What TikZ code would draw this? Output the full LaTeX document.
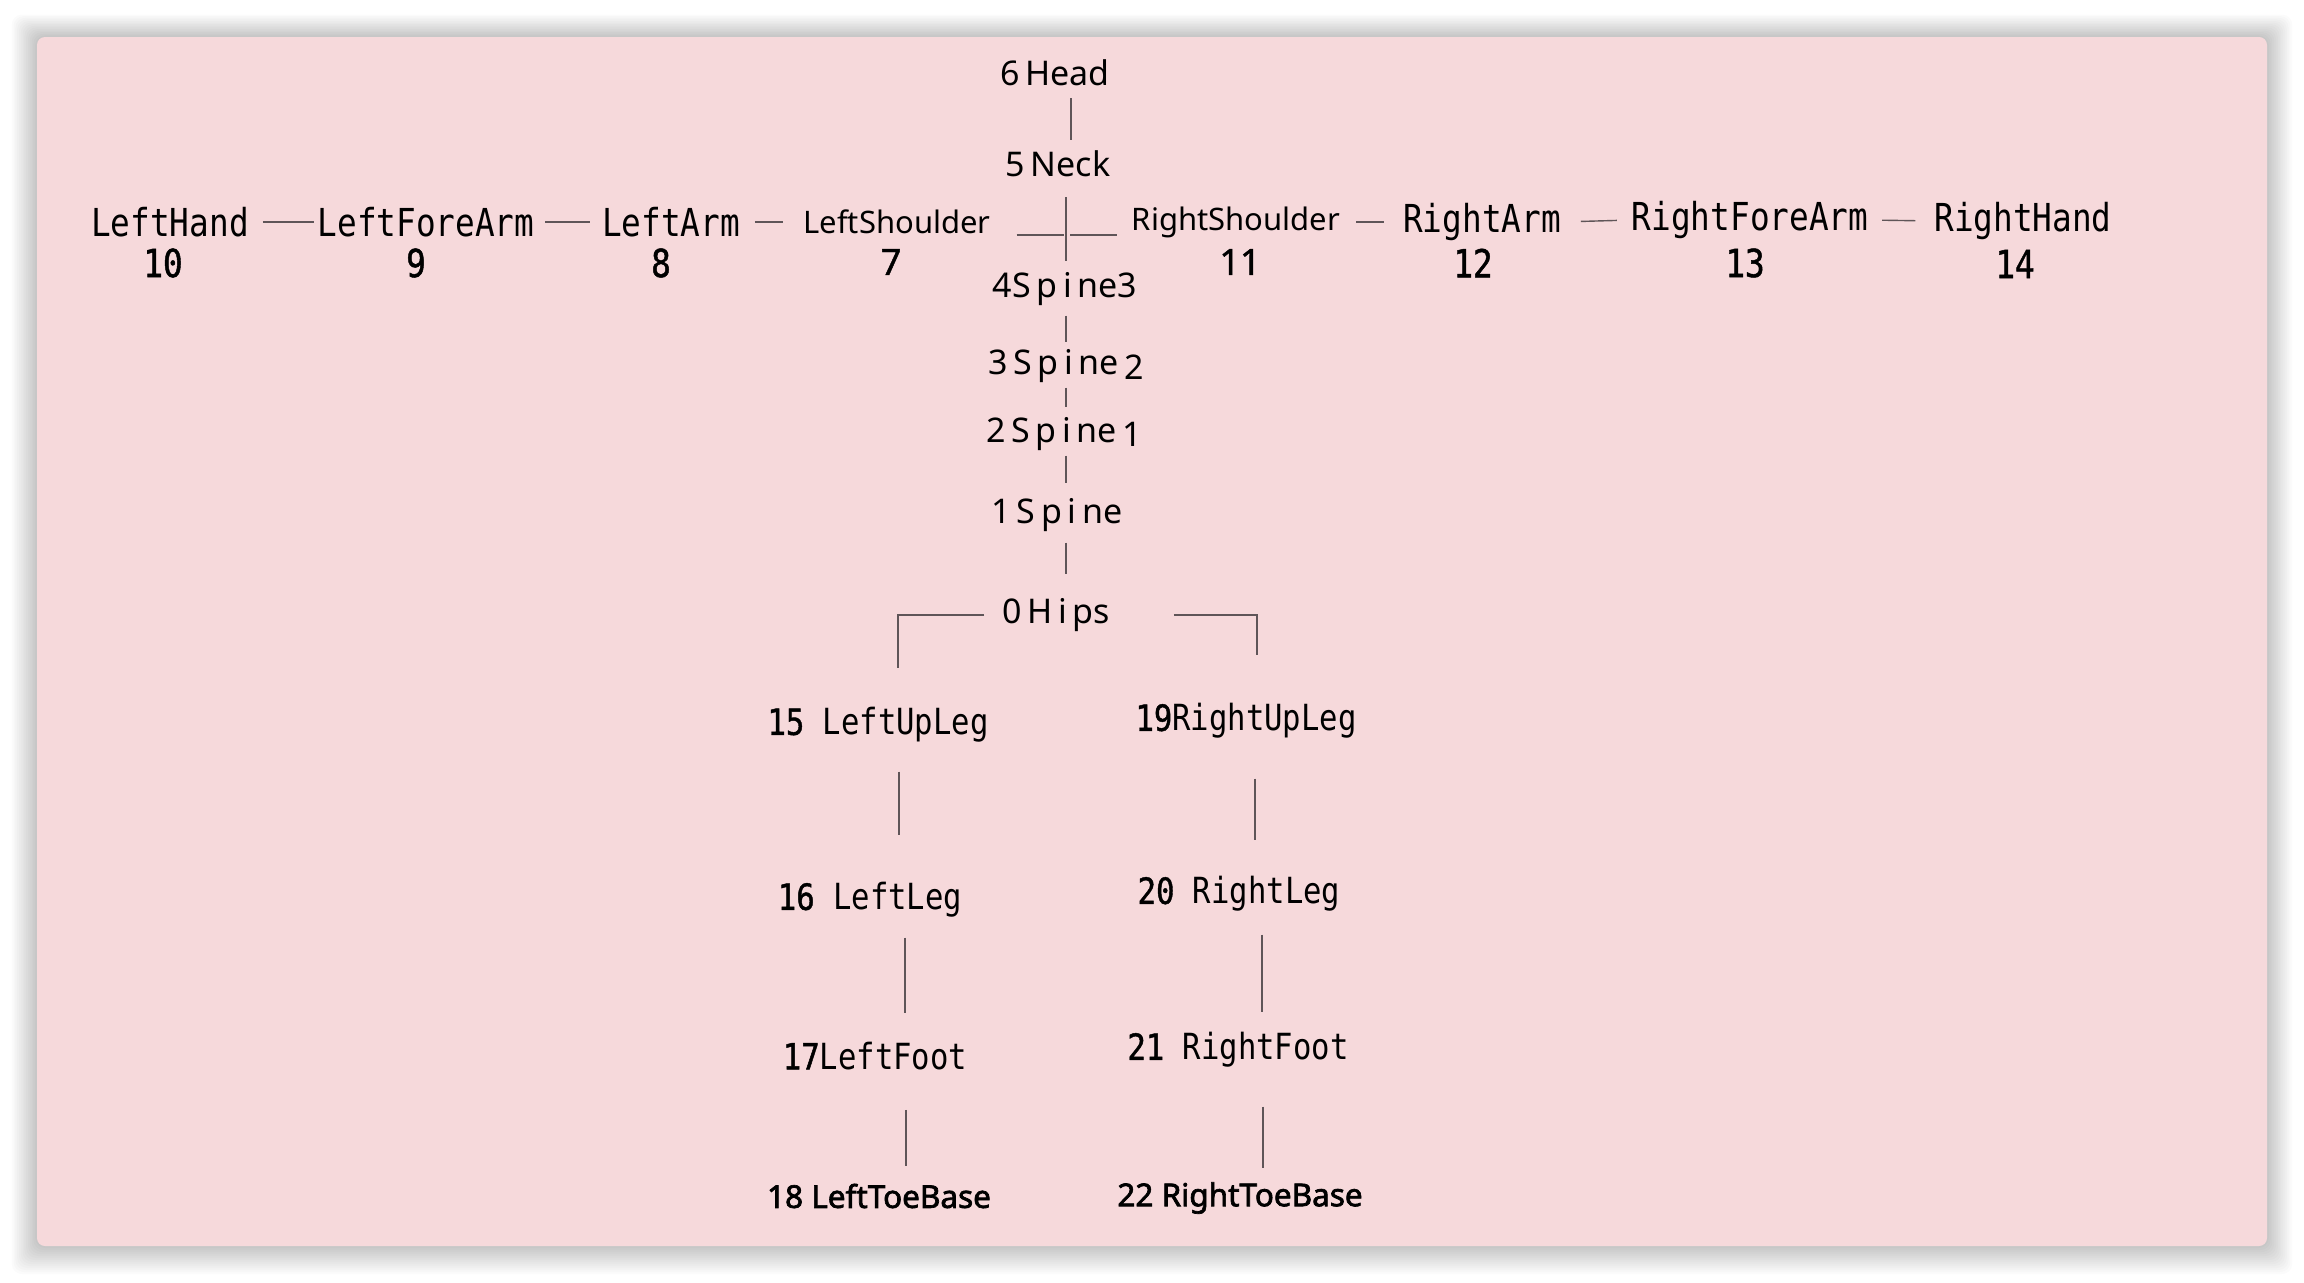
\documentclass[tikz,border=0pt]{standalone}
\usepackage{fontspec}
\setmainfont{Noto Sans}
\newfontfamily\monof[FakeStretch=0.85]{DejaVu Sans Mono}
\newfontfamily\monob[FakeStretch=0.85,FakeBold=1.2]{DejaVu Sans Mono}
\newfontfamily\toef[FakeBold=2.2]{Noto Sans}
\newfontfamily\numf[FakeBold=1.2]{Noto Sans}
\usetikzlibrary{calc}
\definecolor{panel}{RGB}{246,217,219}
\definecolor{lnc}{RGB}{95,85,88}
\begin{document}
\begin{tikzpicture}[x=1pt,y=-1pt,
  conn/.style={draw=lnc,line width=1.4pt},
  lab/.style={inner sep=0pt,outer sep=0pt,text=black,font=\fontsize{34}{40}\selectfont},
  shl/.style={inner sep=0pt,outer sep=0pt,text=black,font=\fontsize{31}{36}\selectfont},
  shn/.style={inner sep=0pt,outer sep=0pt,text=black,font=\numf\fontsize{36}{42}\selectfont},
  arm/.style={inner sep=0pt,outer sep=0pt,text=black,font=\monof\fontsize{38.5}{44}\selectfont},
  armn/.style={inner sep=0pt,outer sep=0pt,text=black,font=\monob\fontsize{38.5}{44}\selectfont},
  leg/.style={inner sep=0pt,outer sep=0pt,text=black,font=\monof\fontsize{36}{42}\selectfont},
  toe/.style={inner sep=0pt,outer sep=0pt,text=black,font=\toef\fontsize{31.5}{36}\selectfont}
]
\useasboundingbox (0,0) rectangle (2304,1282);
\fill[white] (0,0) rectangle (2304,1282);
\foreach \i in {1,...,14}{
  \fill[black,opacity=0.014,rounded corners=10] ({37-1.8*\i},{37-1.6*\i}) rectangle ({2267+1.8*\i},{1246+2*\i});
}
\fill[panel,rounded corners=8] (37,37) rectangle (2267,1246);

% spine column
\node[lab] (head) at (1055,73) {6\,Head};
\node[lab] (neck) at (1058,164) {5\,Neck};
\node[lab] (spine3) at (1065,289) {4S\,p\,i\,ne3};
\node[lab] (spine2) at (1066,366) {3\,S\,p\,i\,ne\,\raisebox{-5pt}{2}};
\node[lab] (spine1) at (1064,434) {2\,S\,p\,i\,ne\,\raisebox{-4pt}{1}};
\node[lab] (spine) at (1057,515) {1\,S\,p\,i\,ne};
\node[lab] (hips) at (1056,615) {0\,H\,i\,ps};

% arms
\node[shl] (ls) at (897,222) {LeftShoulder};
\node[shn] (lsn) at (891,262) {7};
\node[shl] (rs) at (1236,222) {RightShoulder};
\node[shn] (rsn) at (1240,262) {11};
\node[arm] (lh) at (170,222) {LeftHand};
\node[armn] (lhn) at (163,263) {10};
\node[arm] (lfa) at (426,222) {LeftForeArm};
\node[armn] (lfan) at (416,263) {9};
\node[arm] (la) at (671,222) {LeftArm};
\node[armn] (lan) at (661,263) {8};
\node[arm] (ra) at (1482,222) {RightArm};
\node[armn] (ran) at (1473,263) {12};
\node[arm] (rfa) at (1750,220) {RightForeArm};
\node[armn] (rfan) at (1745,263) {13};
\node[arm] (rh) at (2023,221) {RightHand};
\node[armn] (rhn) at (2015,264) {14};

% legs
\node[leg] (lul) at (878,725) {{\monob 15} LeftUpLeg};
\node[leg] (ll) at (870,900) {{\monob 16} LeftLeg};
\node[leg] (lf) at (875,1056) {{\monob 17}LeftFoot};
\node[toe] (ltb) at (879,1196) {18 LeftToeBase};
\node[leg] (rul) at (1246,721) {{\monob 19}RightUpLeg};
\node[leg] (rl) at (1239,894) {{\monob 20} RightLeg};
\node[leg] (rf) at (1238,1050) {{\monob 21} RightFoot};
\node[toe] (rtb) at (1240,1198) {22 RightToeBase};

% helper coordinates
\coordinate (ctr) at (1066,235);
\coordinate (hn) at (1071,120);
\coordinate (hipL) at (898,668);
\coordinate (hipR) at (1257,655);
\coordinate (lx1) at (899,800);
\coordinate (rx1) at (1255,800);
\coordinate (lx2) at (905,975);
\coordinate (rx2) at (1262,975);
\coordinate (lx3) at (906,1135);
\coordinate (rx3) at (1263,1135);

% arm connectors
\draw[conn, shorten <=14pt, shorten >=4pt] (lh.east) -- (lfa.west);
\draw[conn, shorten <=11pt, shorten >=12pt] (lfa.east) -- (la.west);
\draw[conn, shorten <=15pt, shorten >=20pt] (la.east) -- (ls.west);
\draw[conn, shorten <=26pt, shorten >=2pt] (ls.east |- ctr) -- (ctr);
\draw[conn, shorten <=4pt, shorten >=15pt] (ctr) -- (rs.west |- ctr);
\draw[conn, shorten <=16pt, shorten >=19pt] (rs.east) -- (ra.west);
\draw[conn, shorten <=20pt, shorten >=15pt] (ra.east) -- (rfa.west);
\draw[conn, shorten <=14pt, shorten >=19pt] (rfa.east) -- (rh.west);

% spine connectors
\draw[conn, shorten <=12pt, shorten >=11pt] (head.south -| hn) -- (neck.north -| hn);
\draw[conn, shorten <=20pt, shorten >=11pt] (neck.south -| ctr) -- (spine3.north -| ctr);
\draw[conn, shorten <=10pt, shorten >=7pt] (spine3.south -| ctr) -- (spine2.north -| ctr);
\draw[conn, shorten <=5pt, shorten >=10pt] (spine2.south -| ctr) -- (spine1.north -| ctr);
\draw[conn, shorten <=5pt, shorten >=15pt] (spine1.south -| ctr) -- (spine.north -| ctr);
\draw[conn, shorten <=11pt, shorten >=24pt] (spine.south -| ctr) -- (hips.north -| ctr);

% hips to legs
\draw[conn, shorten <=18pt] (hips.west) -| (hipL);
\draw[conn, shorten <=64pt] (hips.east) -| (hipR);
\draw[conn, shorten <=29pt, shorten >=47pt] (lul.south -| lx1) -- (ll.north -| lx1);
\draw[conn, shorten <=40pt, shorten >=36pt] (rul.south -| rx1) -- (rl.north -| rx1);
\draw[conn, shorten <=20pt, shorten >=29pt] (ll.south -| lx2) -- (lf.north -| lx2);
\draw[conn, shorten <=23pt, shorten >=20pt] (rl.south -| rx2) -- (rf.north -| rx2);
\draw[conn, shorten <=40pt, shorten >=18pt] (lf.south -| lx3) -- (ltb.north -| lx3);
\draw[conn, shorten <=39pt, shorten >=14pt] (rf.south -| rx3) -- (rtb.north -| rx3);
\end{tikzpicture}
\end{document}
